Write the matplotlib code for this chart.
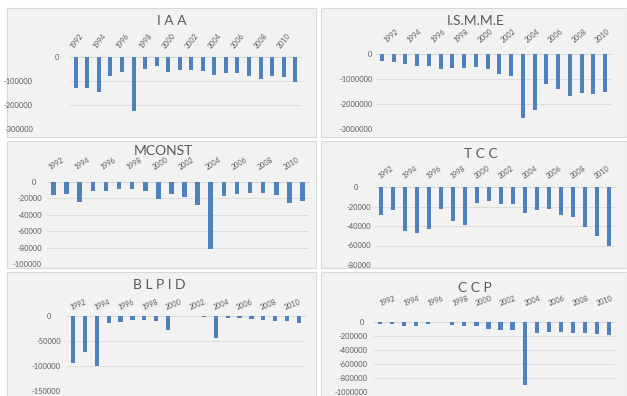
import matplotlib.pyplot as plt
from matplotlib.patches import Rectangle
from matplotlib.transforms import ScaledTranslation

plt.rcParams['font.family'] = ['Lato', 'DejaVu Sans']

years = list(range(1992, 2012))
year_ticks = [str(y) for y in range(1992, 2011, 2)]

iaa = [-128000, -128000, -147000, -78000, -64000, -224000, -49000, -39000, -64000, -56000,
       -56000, -60000, -75000, -67000, -67000, -78000, -90000, -78000, -85000, -104000]
ismme = [-280000, -330000, -410000, -480000, -470000, -610000, -550000, -550000, -510000, -610000,
         -800000, -880000, -2550000, -2240000, -1210000, -1410000, -1680000, -1570000, -1600000, -1510000]
mconst = [-16300, -14600, -24400, -11400, -10600, -8500, -8500, -10600, -20300, -14600,
          -17900, -27600, -81300, -17100, -14600, -13800, -13800, -16300, -25600, -23600]
tcc = [-29000, -24100, -45500, -47200, -42800, -22100, -34500, -39300, -16200, -14500,
       -17200, -17900, -26200, -24100, -22800, -29000, -31000, -41400, -50000, -60000]
blpid = [-94000, -72000, -100000, -13300, -12000, -7300, -8000, -10700, -27300, 0,
         0, -2700, -44000, -4000, -3400, -6000, -7400, -9400, -9400, -13500]
ccp = [-30000, -30000, -62000, -62000, -24000, 0, -48000, -50000, -62000, -96000,
       -110000, -120000, -904000, -163000, -144000, -144000, -150000, -163000, -178000, -192000]

W, H = 627, 396
fig = plt.figure(figsize=(W / 100, H / 100), dpi=100, facecolor='white')

BAR = '#4f81bd'
GRID = '#d9d9d9'
TXT = '#595959'
PANEL = '#f2f2f2'


def shift(label, dx, dy=0):
    label.set_transform(label.get_transform() +
                        ScaledTranslation(dx / 100, dy / 100, fig.dpi_scale_trans))


# panel box, plot box (px), title, title centre, data, y ticks,
# y label pad (px), shift of the "0" label (px),
# year label angle, year label pad (pt), year label shift (px)
charts = [
    ((7, 8, 316, 137), (70, 57, 301, 129), 'I A A', (172, 21), iaa,
     [0, -100000, -200000, -300000], 37, 26, 52, 5, -2),
    ((321, 8, 627, 137), (376, 54, 611, 129), 'I.S.M.M.E', (476, 21), ismme,
     [0, -1000000, -2000000, -3000000], 3, -1, 40, 7.5, 5),
    ((7, 141, 316, 268), (47, 182, 309, 264), 'MCONST', (163, 151), mconst,
     [0, -20000, -40000, -60000, -80000, -100000], 5, -6, 32, 8, -3),
    ((321, 141, 627, 268), (375, 187, 615, 265), 'T C C', (481, 154), tcc,
     [0, -20000, -40000, -60000, -80000], 4, -13, 35, 5, 0),
    ((7, 272, 316, 400), (67, 316, 305, 391), 'B L P I D', (159, 285), blpid,
     [0, -50000, -100000, -150000], 6, -10, 22, 4, -1),
    ((321, 272, 627, 400), (374, 322, 615, 392), 'C C P', (475, 288), ccp,
     [0, -200000, -400000, -600000, -800000, -1000000], 6, -4, 20, 11, 1),
]

x = list(range(len(years)))

for panel, box, title, tpos, vals, yt, pad, zdx, rot, xpad, xdx in charts:
    l, t, r, b = panel
    fig.patches.append(Rectangle((l / W, 1 - b / H), (r - l) / W, (b - t) / H,
                                 transform=fig.transFigure, facecolor=PANEL,
                                 edgecolor=GRID, linewidth=0.8, zorder=-5))
    l, t, r, b = box
    ax = fig.add_axes([l / W, 1 - b / H, (r - l) / W, (b - t) / H])
    ax.set_zorder(2)
    ax.set_facecolor('none')
    ax.bar(x, vals, width=0.35, color=BAR, zorder=3)
    ax.set_xlim(-0.5, len(years) - 0.5)
    ax.set_ylim(yt[-1], 0)
    ax.set_yticks(yt)
    ax.set_yticklabels([str(v) for v in yt], fontsize=5.4, color=TXT)
    ax.grid(axis='y', color=GRID, linewidth=0.6, zorder=0)
    ax.xaxis.tick_top()
    ax.set_xticks(x[::2])
    ax.set_xticklabels(year_ticks, fontsize=5.1, color=TXT, rotation=rot,
                       ha='left', va='bottom', rotation_mode='anchor')
    ax.tick_params(axis='x', length=0, pad=xpad)
    ax.tick_params(axis='y', length=0, pad=pad * 0.72)
    shift(ax.get_yticklabels()[0], zdx)
    for lab in ax.get_xticklabels():
        shift(lab, xdx)
    for side in ('left', 'right', 'bottom'):
        ax.spines[side].set_visible(False)
    ax.spines['top'].set_color(GRID)
    ax.spines['top'].set_linewidth(0.8)
    fig.text(tpos[0] / W, 1 - tpos[1] / H, title, fontsize=10, color=TXT,
             ha='center', va='center')

fig.savefig('out.png', dpi=100, facecolor='white')
